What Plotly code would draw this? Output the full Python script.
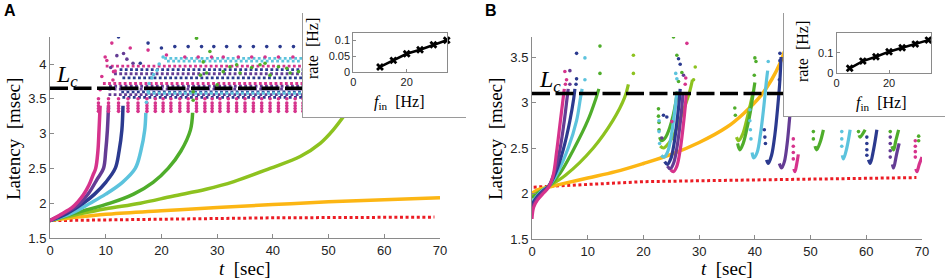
import plotly.graph_objects as go

W, H = 945, 280
def px(x): return x / W
def py(y): return 1 - y / H

COL = dict(mag="#d6338c", pur="#643c94", blu="#2b3a8f", lbl="#5cc3dd",
           grn="#4fad2b", ygr="#8dc21f", org="#fcb614", red="#ec1c24")

# ================= Panel A data =================
a_mag_t = [0, 2, 4, 5, 6, 7, 7.7, 8.2, 8.6, 8.8, 9.0]
a_mag_L = [1.75, 1.84, 1.94, 2.02, 2.12, 2.26, 2.4, 2.5, 2.75, 3.05, 3.4]
a_pur_t = [0, 2, 4, 5.4, 7, 8.5, 9.6, 10.0, 10.3, 10.5]
a_pur_L = [1.75, 1.83, 1.92, 2.0, 2.15, 2.35, 2.5, 2.75, 3.05, 3.4]
a_blu_t = [0, 3, 6, 8, 10, 11.7, 12.4, 12.9, 13.1]
a_blu_L = [1.75, 1.85, 2.0, 2.13, 2.3, 2.5, 2.75, 3.05, 3.4]
a_lbl_t = [0, 4, 7.2, 10, 13, 15.3, 16.3, 17.0, 17.2]
a_lbl_L = [1.75, 1.86, 2.0, 2.13, 2.3, 2.5, 2.75, 3.05, 3.3]
a_grn_t = [0, 5, 10.8, 15, 18.5, 21.2, 23.5, 25.2, 25.6]
a_grn_L = [1.75, 1.87, 2.0, 2.13, 2.3, 2.5, 2.75, 3.05, 3.3]
a_ygr_t = [0, 5, 10, 16.2, 22, 28, 33, 39.5, 44.9, 48.5, 50.8, 53, 54.5]
a_ygr_L = [1.75, 1.84, 1.92, 2.0, 2.1, 2.2, 2.31, 2.5, 2.67, 2.86, 3.05, 3.28, 3.45]
a_org_t = [0, 5, 10, 20, 30, 40, 50, 60, 70]
a_org_L = [1.75, 1.8, 1.84, 1.89, 1.94, 1.98, 2.02, 2.05, 2.08]
a_red_t = [0.5, 10, 20, 40, 69]
a_red_L = [1.75, 1.76, 1.77, 1.79, 1.80]

# dotted rows of the saturated regime (panel A)
a_row_col = ["pur", "mag", "pur", "blu", "pur", "blu", "lbl", "blu", "pur", "blu", "mag", "lbl", "lbl"]
a_row_L   = [3.68, 3.72, 3.64, 3.60, 3.56, 3.52, 3.58, 3.80, 3.86, 3.92, 3.97, 4.04, 4.08]
a_row_t0  = [10.6, 9.5, 10.5, 12.8, 10.5, 13.0, 17.5, 13.0, 11.5, 12.5, 10.0, 21.0, 20.5]
a_row_t1  = [46, 46, 46, 46, 46, 46, 46, 46, 46, 46, 46, 46, 46]

# magenta streak columns
a_col_t = [8.7, 10.5, 12.3, 14.0, 15.8, 17.4, 18.9, 20.3, 21.7, 23.3, 24.8, 26.3, 27.8,
           29.1, 30.5, 32.0, 33.5, 35.0, 36.5, 38.0, 39.5, 41.0, 42.5, 44.0, 45.4]
a_col_L = [3.32, 3.36, 3.40, 3.44, 3.50]

# scattered dots (panel A)
a_dmag_t = [9.0, 9.3, 9.9, 10.2, 11.1, 11.3, 11.4, 11.7, 14.4, 17.6, 20.9,
            24.2, 26.6, 29.0, 31.1, 33.8, 36.2, 38.6, 41.0, 43.6]
a_dmag_L = [3.63, 3.82, 4.1, 4.05, 4.3, 3.77, 3.89, 3.9, 4.23, 4.2, 4.13,
            4.1, 4.1, 4.1, 4.1, 4.1, 4.1, 4.1, 4.1, 4.1]
a_dblu_t = [12.3, 16.2, 17.6, 20.0, 22.4, 24.8, 27.2, 29.4, 31.7, 34.1, 36.5, 38.9, 41.3, 43.7]
a_dblu_L = [4.39, 4.01, 4.3, 4.23, 4.25, 4.25, 4.25, 4.25, 4.25, 4.25, 4.25, 4.25, 4.25, 4.25]
a_dpur_t = [13.2, 14.9, 12.0, 10.9, 13.8]
a_dpur_L = [4.15, 4.01, 4.12, 3.95, 4.07]
a_dgrn_t = [26.3, 28.7, 27.5, 27.0, 28.1, 25.7, 25.7, 31.1, 32.3, 33.5, 34.1, 36.2,
            37.7, 38.6, 39.5, 41.0, 42.5, 43.1, 44.6, 30.0, 35.0]
a_dgrn_L = [4.37, 4.18, 4.03, 3.84, 3.87, 3.6, 3.48, 3.89, 3.96, 3.99, 3.87, 3.95,
            3.99, 4.01, 3.84, 3.96, 3.94, 3.87, 3.89, 3.7, 3.65]
a_dlbl_t = [17.3, 17.6, 17.8, 18.3, 18.6, 19.2, 19.6, 20.3]
a_dlbl_L = [3.45, 3.6, 3.72, 3.8, 3.85, 3.91, 4.0, 4.1]

a_Lc = 3.65

# ================= Panel B data =================
b_seg_col = ["ygr", "grn", "lbl", "blu", "pur", "mag",
             "ygr", "grn", "lbl", "blu", "pur", "mag",
             "ygr", "grn", "lbl", "blu", "pur",
             "mag", "grn", "lbl", "grn", "blu", "grn", "pur", "mag"]
b_seg_t = [
    [0, 1, 3, 6, 11, 14.5, 16.6, 17.3],
    [0, 1, 2, 3, 5, 7.6, 10, 11.5, 12.0],
    [0, 1, 2, 3, 4.5, 6.5, 8, 8.7, 9.0],
    [0, 1, 2, 3, 4.2, 5.6, 6.8, 7.5, 7.7],
    [0, 1, 2, 3, 4, 5, 5.8, 6.3, 6.5],
    [0, 0.3, 1, 2, 3, 3.8, 4.4, 5.0, 5.5, 5.8],
    [23.0, 23.6, 24.5, 25.5, 26.5, 27.5, 28.3, 28.8],
    [22.9, 23.3, 24.0, 24.7, 25.3, 25.8, 26.1],
    [23.2, 23.7, 24.3, 24.9, 25.4, 25.8, 26.0],
    [23.8, 24.3, 24.9, 25.5, 26.0, 26.4, 26.6],
    [24.3, 24.8, 25.4, 26.0, 26.5, 26.9, 27.1],
    [24.9, 25.4, 26.0, 26.6, 27.1, 27.5, 27.7],
    [36.7, 37.1, 37.8, 38.5, 39.2, 39.7],
    [36.9, 37.3, 37.9, 38.6, 39.2, 39.7, 40.0],
    [39.5, 39.8, 40.4, 41.0, 41.6, 42.1, 42.3],
    [42.1, 42.4, 43.0, 43.6, 44.1, 44.5, 44.7],
    [44.4, 44.8, 45.3, 45.8, 46.2, 46.5],
    [47.0, 47.2, 47.5, 47.8],
    [50.8, 51.1, 51.7, 52.3],
    [55.7, 55.9, 56.5, 57.1],
    [58.7, 58.9, 59.3, 59.8],
    [60.4, 60.7, 61.3, 61.9],
    [64.6, 64.9, 65.3, 65.8],
    [64.7, 64.9, 65.4, 65.9],
    [68.9, 69.1, 69.5, 70.0],
]
b_seg_L = [
    [1.97, 2.01, 2.08, 2.2, 2.5, 2.8, 3.05, 3.2],
    [1.95, 2.0, 2.04, 2.08, 2.22, 2.5, 2.8, 3.05, 3.15],
    [1.9, 1.98, 2.04, 2.08, 2.22, 2.5, 2.8, 3.05, 3.15],
    [1.88, 1.97, 2.03, 2.08, 2.22, 2.48, 2.8, 3.05, 3.15],
    [1.85, 1.95, 2.02, 2.08, 2.23, 2.48, 2.8, 3.05, 3.15],
    [1.72, 1.85, 1.93, 2.0, 2.07, 2.2, 2.45, 2.75, 3.0, 3.15],
    [2.52, 2.5, 2.55, 2.65, 2.8, 2.97, 3.12, 3.25],
    [2.62, 2.58, 2.62, 2.72, 2.85, 3.0, 3.12],
    [2.42, 2.4, 2.45, 2.6, 2.8, 3.0, 3.12],
    [2.35, 2.32, 2.38, 2.55, 2.78, 3.0, 3.15],
    [2.3, 2.27, 2.33, 2.5, 2.72, 2.95, 3.1],
    [2.26, 2.24, 2.3, 2.48, 2.72, 2.95, 3.1],
    [2.62, 2.58, 2.65, 2.8, 2.98, 3.12],
    [2.55, 2.48, 2.55, 2.72, 2.9, 3.1, 3.22],
    [2.45, 2.39, 2.45, 2.65, 2.95, 3.25, 3.35],
    [2.37, 2.33, 2.42, 2.65, 2.95, 3.25, 3.5],
    [2.33, 2.28, 2.35, 2.55, 2.8, 3.0],
    [2.27, 2.24, 2.32, 2.43],
    [2.52, 2.48, 2.56, 2.7],
    [2.42, 2.38, 2.5, 2.7],
    [2.64, 2.62, 2.65, 2.7],
    [2.37, 2.33, 2.48, 2.7],
    [2.52, 2.48, 2.58, 2.7],
    [2.32, 2.28, 2.42, 2.55],
    [2.27, 2.24, 2.32, 2.4],
]

b_org_t = [0, 1, 3, 5, 10, 15, 20, 25, 30, 35, 38, 41, 43, 44.5, 45.3]
b_org_L = [2.0, 2.04, 2.07, 2.1, 2.17, 2.24, 2.33, 2.43, 2.56, 2.73, 2.88, 3.07, 3.25, 3.43, 3.56]
b_red_t = [0.3, 10, 20, 30, 40, 50, 60, 69]
b_red_L = [2.07, 2.1, 2.13, 2.14, 2.15, 2.16, 2.17, 2.175]

# sparse dots (panel B)
b_dmag_t = [5.9, 6.2, 6.0, 25.1, 27.8, 27.6, 27.5, 46.9, 46.9, 46.9, 46.9, 68.8, 68.8, 68.8, 68.8]
b_dmag_L = [3.34, 3.25, 3.2, 2.79, 3.65, 3.27, 3.2, 2.6, 2.52, 2.45, 2.38, 2.58, 2.52, 2.46, 2.4]
b_dpur_t = [6.8, 6.8, 23.3, 27.2, 64.3, 64.3, 64.3, 64.3]
b_dpur_L = [3.35, 3.2, 2.61, 3.3, 2.62, 2.55, 2.47, 2.4]
b_dblu_t = [8.0, 8.0, 7.9, 23.6, 24.2, 26.3, 26.6, 41.8, 41.9, 41.7, 44.5, 44.5, 44.4, 60.1, 60.1, 60.1, 60.1]
b_dblu_L = [3.54, 3.26, 3.2, 2.86, 2.84, 3.48, 3.42, 2.62, 2.55, 2.7, 3.54, 3.46, 3.25, 2.62, 2.55, 2.48, 2.42]
b_dlbl_t = [9.5, 9.5, 22.8, 22.8, 22.9, 25.8, 26.0, 39.1, 39.1, 39.2, 39.3, 42.4, 55.6, 55.6, 55.6]
b_dlbl_L = [3.49, 3.25, 2.8, 2.68, 2.55, 3.32, 3.26, 2.92, 2.8, 2.7, 2.6, 3.45, 2.68, 2.6, 2.52]
b_dgrn_t = [12.2, 12.2, 22.7, 22.7, 22.8, 22.8, 25.4, 26.0, 26.3, 26.9, 36.4, 36.5, 40.0, 40.2, 39.9,
            50.5, 50.5, 58.6, 64.3, 69.4, 69.4]
b_dgrn_L = [3.62, 3.32, 2.93, 2.85, 2.78, 2.7, 3.72, 3.52, 3.23, 3.33, 2.94, 2.86, 3.49, 3.45, 3.3,
            2.68, 2.6, 2.68, 2.68, 2.63, 2.58]
b_dygr_t = [18.2, 18.2, 29.3, 29.0]
b_dygr_L = [3.52, 3.32, 3.39, 3.25]

b_Lc = 3.10

# ================= Insets =================
ia_f = [10, 15, 20, 25, 30, 35]
ia_r = [0.016, 0.037, 0.058, 0.071, 0.087, 0.101]
ib_f = [5, 10, 15, 20, 25, 30, 35]
ib_r = [0.022, 0.058, 0.080, 0.105, 0.125, 0.143, 0.163]

# ================= Figure =================
fig = go.Figure()

def add_line(ax, t, L, color, width=3.5, dash=None, shape="spline"):
    fig.add_trace(go.Scatter(x=t, y=L, mode="lines", xaxis="x" + ax, yaxis="y" + ax,
                             line=dict(color=color, width=width, dash=dash, shape=shape),
                             hoverinfo="skip", showlegend=False))

def add_dots(ax, t, L, color, size=3.6):
    fig.add_trace(go.Scatter(x=t, y=L, mode="markers", xaxis="x" + ax, yaxis="y" + ax,
                             marker=dict(color=color, size=size, line=dict(width=0)),
                             hoverinfo="skip", showlegend=False))

A, B = "", "2"
# ---- panel A ----
add_line(A, a_red_t, a_red_L, COL["red"], width=3, dash="3px,2.6px", shape="linear")
add_line(A, a_org_t, a_org_L, COL["org"])
add_line(A, a_ygr_t, a_ygr_L, COL["ygr"])
add_line(A, a_grn_t, a_grn_L, COL["grn"])
add_line(A, a_lbl_t, a_lbl_L, COL["lbl"])
add_line(A, a_blu_t, a_blu_L, COL["blu"])
add_line(A, a_pur_t, a_pur_L, COL["pur"])
add_line(A, a_mag_t, a_mag_L, COL["mag"])
for c, L, t0, t1 in zip(a_row_col, a_row_L, a_row_t0, a_row_t1):
    add_line(A, [t0, t1], [L, L], COL[c], width=2.8, dash="2.8px,2.4px", shape="linear")
colx = [t for t in a_col_t for _ in a_col_L]
coly = [L for _ in a_col_t for L in a_col_L]
add_dots(A, colx, coly, COL["mag"])
add_dots(A, a_dlbl_t, a_dlbl_L, COL["lbl"])
add_dots(A, a_dgrn_t, a_dgrn_L, COL["grn"])
add_dots(A, a_dpur_t, a_dpur_L, COL["pur"])
add_dots(A, a_dblu_t, a_dblu_L, COL["blu"])
add_dots(A, a_dmag_t, a_dmag_L, COL["mag"])
add_line(A, [0, 70], [a_Lc, a_Lc], "black", width=3.5, dash="18px,5.5px", shape="linear")

# ---- panel B ----
add_line(B, b_red_t, b_red_L, COL["red"], width=3, dash="3px,2.6px", shape="linear")
add_line(B, b_org_t, b_org_L, COL["org"])
for c, t, L in zip(b_seg_col, b_seg_t, b_seg_L):
    add_line(B, t, L, COL[c], width=3.2)
add_dots(B, b_dygr_t, b_dygr_L, COL["ygr"])
add_dots(B, b_dgrn_t, b_dgrn_L, COL["grn"])
add_dots(B, b_dlbl_t, b_dlbl_L, COL["lbl"])
add_dots(B, b_dblu_t, b_dblu_L, COL["blu"])
add_dots(B, b_dpur_t, b_dpur_L, COL["pur"])
add_dots(B, b_dmag_t, b_dmag_L, COL["mag"])
add_line(B, [0, 70], [b_Lc, b_Lc], "black", width=3.5, dash="18px,5.5px", shape="linear")

# ---- inset frames (white boxes) ----
for ax in ["3", "4"]:
    fig.add_trace(go.Scatter(x=[0, 1, 1, 0, 0], y=[0, 0, 1, 1, 0], mode="lines", fill="toself",
                             fillcolor="white", line=dict(width=0, color="white"),
                             xaxis="x" + ax, yaxis="y" + ax, hoverinfo="skip", showlegend=False))
# ---- inset data ----
for ax, f, r in [("5", ia_f, ia_r), ("6", ib_f, ib_r)]:
    fig.add_trace(go.Scatter(x=f, y=r, mode="lines+markers", xaxis="x" + ax, yaxis="y" + ax,
                             line=dict(color="black", width=2.5),
                             marker=dict(symbol="x", size=7, color="black", line=dict(width=0)),
                             cliponaxis=False, hoverinfo="skip", showlegend=False))

GRAY = "#8a8a8a"
TICKF = dict(family="Liberation Sans, Arial, sans-serif", size=13, color="#222222")
INF = dict(family="Liberation Sans, Arial, sans-serif", size=11, color="#222222")

def main_x(dom, anchor):
    return dict(domain=dom, range=[0, 70], tickvals=[0, 10, 20, 30, 40, 50, 60, 70],
                ticks="inside", ticklen=4, tickcolor=GRAY, showline=True, linecolor=GRAY,
                linewidth=1, showgrid=False, zeroline=False, tickfont=TICKF, anchor=anchor,
                automargin=False)

def main_y(dom, rng, vals, anchor):
    return dict(domain=dom, range=rng, tickvals=vals, ticktext=[("%g" % v) for v in vals],
                ticks="inside", ticklen=4, tickcolor=GRAY, showline=True, linecolor=GRAY,
                linewidth=1, showgrid=False, zeroline=False, tickfont=TICKF, anchor=anchor,
                automargin=False)

frame_ax = dict(range=[0, 1], showline=True, linecolor="#9a9a9a", linewidth=1, ticks="",
                showticklabels=False, showgrid=False, zeroline=False, fixedrange=True,
                automargin=False)

def in_ax(dom, rng, vals, anchor):
    return dict(domain=dom, range=rng, tickvals=vals, ticktext=[("%g" % v) for v in vals],
                ticks="inside", ticklen=3, tickcolor=GRAY, showline=True, linecolor=GRAY,
                mirror=True, linewidth=1, showgrid=False, zeroline=False, tickfont=INF,
                anchor=anchor, automargin=False)

fig.update_layout(
    width=W, height=H, autosize=False, margin=dict(l=0, r=0, t=0, b=0, autoexpand=False),
    paper_bgcolor="white", plot_bgcolor="white", showlegend=False,
    xaxis=main_x([px(50), px(440)], "y"),
    yaxis=main_y([py(238), py(37)], [1.5, 1.5 + 201 / 69.6], [1.5, 2, 2.5, 3, 3.5, 4], "x"),
    xaxis2=main_x([px(532), px(922)], "y2"),
    yaxis2=main_y([py(239), py(37)], [1.5, 1.5 + 202 / 91.0], [1.5, 2, 2.5, 3, 3.5], "x2"),
    xaxis3=dict(frame_ax, domain=[px(303), px(466)], anchor="y3"),
    yaxis3=dict(frame_ax, domain=[py(117), py(13)], anchor="x3"),
    xaxis4=dict(frame_ax, domain=[px(784), 1.0], anchor="y4"),
    yaxis4=dict(frame_ax, domain=[py(116), py(13)], anchor="x4"),
    xaxis5=in_ax([px(353.3), px(447)], [0, 35.1], [0, 20], "y5"),
    yaxis5=in_ax([py(72), py(33)], [0, 39 / 314.0], [0, 0.05, 0.1], "x5"),
    xaxis6=in_ax([px(836.6), px(931)], [0, 36.0], [0, 20], "y6"),
    yaxis6=in_ax([py(72.7), py(33.3)], [0, 0.197], [0, 0.1], "x6"),
)

SERIF = "Liberation Serif, Times New Roman, serif"
def ann(x, y, text, size, angle=0, family=SERIF, xanchor="center", yanchor="middle"):
    fig.add_annotation(x=px(x), y=py(y), xref="paper", yref="paper", text=text, showarrow=False,
                       textangle=angle, xanchor=xanchor, yanchor=yanchor,
                       font=dict(family=family, size=size, color="black"))

ann(13, 139, "Latency  [msec]", 19, angle=-90)
ann(495, 139, "Latency  [msec]", 19, angle=-90)
ann(245, 268, "<i>t</i>  [sec]", 19)
ann(727, 268, "<i>t</i>  [sec]", 19)
ann(54, 76, "<i>L<sub>c</sub></i>", 24, xanchor="left")
ann(537, 81, "<i>L<sub>c</sub></i>", 24, xanchor="left")
ann(2, 11, "<b>A</b>", 16, family="Liberation Sans, Arial, sans-serif", xanchor="left")
ann(483, 11, "<b>B</b>", 16, family="Liberation Sans, Arial, sans-serif", xanchor="left")
ann(312, 49, "rate  [Hz]", 16, angle=-90)
ann(802, 52, "rate  [Hz]", 16, angle=-90)
ann(399, 102, "<i>f</i><sub>in</sub>  [Hz]", 16)
ann(881, 103, "<i>f</i><sub>in</sub>  [Hz]", 16)

fig.write_html("out.html", config={"displayModeBar": False},
               post_script="document.body.style.margin='0';document.body.style.padding='0';"
                           "document.body.style.overflow='hidden';")
